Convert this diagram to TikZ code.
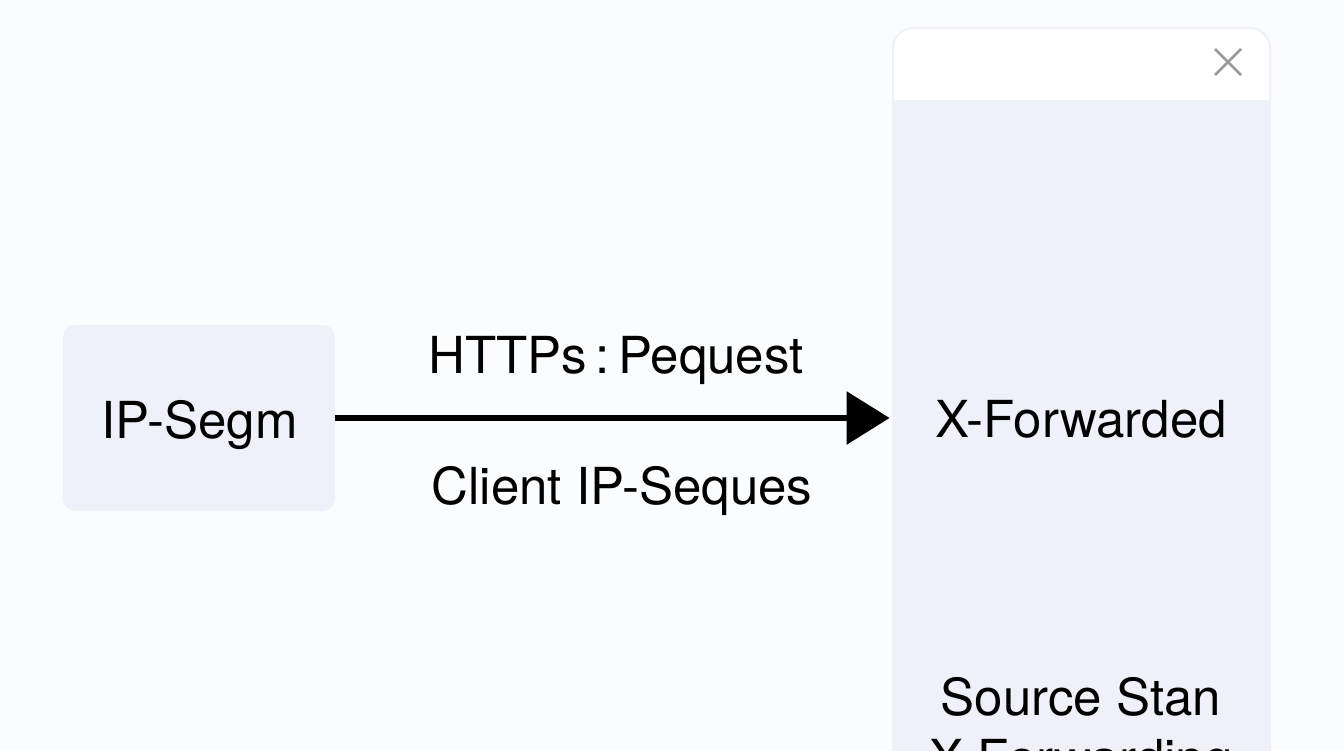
\documentclass[tikz,border=0pt]{standalone}
\usepackage{fontspec}
\setmainfont{TeX Gyre Heros}
\usetikzlibrary{arrows.meta}
\definecolor{bg}{HTML}{FBFCFD}
\definecolor{boxfill}{HTML}{EEF2F8}
\definecolor{panelfill}{HTML}{EEF1F8}
\definecolor{cardline}{HTML}{F0F2F5}
\definecolor{closegray}{HTML}{9A9A9A}
\tikzset{
  px/.style={x=0.5pt,y=-0.5pt},
  lbl/.style={inner sep=0pt,anchor=base,font=\fontsize{25.5}{30}\selectfont},
  srcbox/.style={fill=boxfill,rounded corners=6pt,minimum width=136pt,minimum height=93pt,inner sep=0pt},
  panelbox/.style={fill=panelfill,minimum width=188.5pt,minimum height=335pt,inner sep=0pt},
  arr/.style={line width=3pt,-{Triangle[length=21.5pt,width=26pt]}},
}
\begin{document}
\begin{tikzpicture}[px]
\useasboundingbox (0,0) rectangle (1344,750);
\fill[bg] (0,0) rectangle (1344,750);
% card
\fill[white,draw=cardline,line width=1pt,rounded corners=10pt] (893,28) rectangle (1270,800);
\node[panelbox] (dst) at (1081.5,435) {};
% close icon
\coordinate (xc) at (1228,62);
\draw[closegray,line width=1.4pt] ([shift={(-13,-13)}]xc) -- ([shift={(13,13)}]xc);
\draw[closegray,line width=1.4pt] ([shift={(-13,13)}]xc) -- ([shift={(13,-13)}]xc);
% source box
\node[srcbox] (src) at (199,418) {};
\node[lbl] (srct) at (199.5,438) {IP-Segm};
% arrow
\draw[arr] (src.east) -- ([xshift=-1.5pt]src.east -| dst.west);
\node[lbl] (top) at (616,373) {HTTPs\,:\,Pequest};
\node[lbl] (bot) at (622,504) {Client IP-Seques};
% panel texts
\node[lbl] (xf) at (1081,437) {X-Forwarded};
\node[lbl] (ss) at (1081,715) {Source Stan};
\node[lbl] (xf2) at (1081,776) {X-Forwarding};
\end{tikzpicture}
\end{document}
